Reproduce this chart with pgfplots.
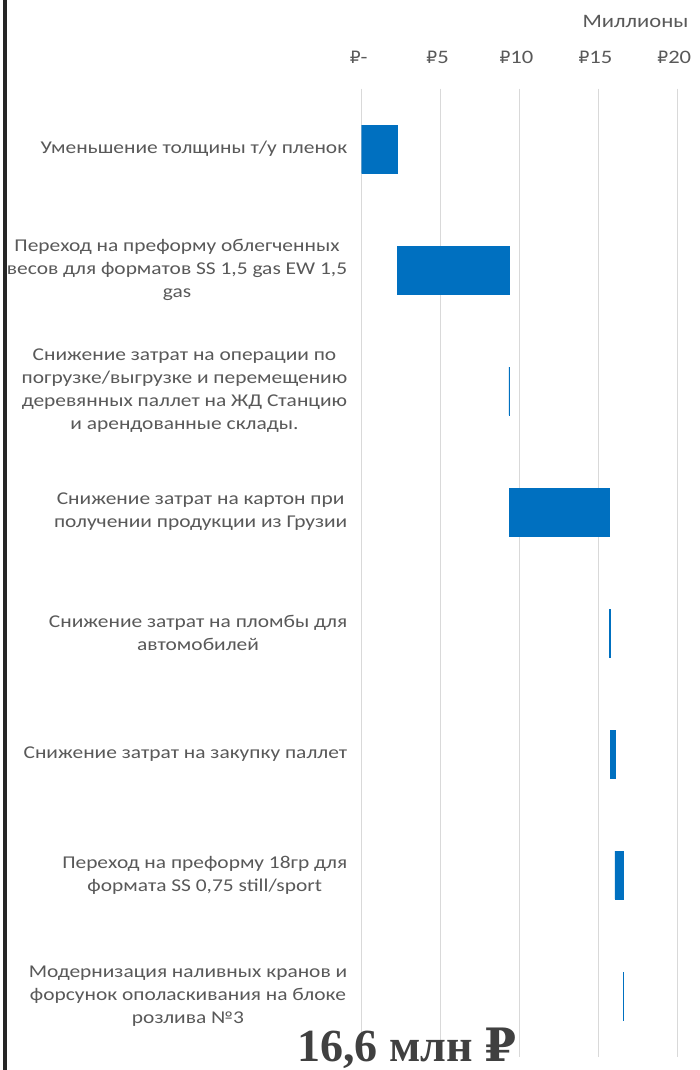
\documentclass[border=0pt]{standalone}
\usepackage{fontspec}
\setmainfont{Carlito}[FakeStretch=1.19]
\newfontfamily\numfont{Liberation Serif}
\newfontfamily\rubserif{DejaVu Serif}
\newfontfamily\rubsans{DejaVu Sans}
\newcommand{\rub}{{\rubsans\fontsize{17}{20}\selectfont ₽}}
\usepackage{pgfplots}
\pgfplotsset{compat=1.18}
\usepackage{pgfplotstable}
\definecolor{barblue}{HTML}{0070C0}
\definecolor{txtgray}{HTML}{595959}
\definecolor{gridgray}{HTML}{D9D9D9}
\definecolor{bigtxt}{HTML}{404040}

\pgfplotstableread{
y base val
0 0     2.26
1 2.26  7.07
2 9.33  0.05
3 9.38  6.31
4 15.69 0.05
5 15.74 0.31
6 16.05 0.52
7 16.57 0.03
}\wf

\begin{document}
\begin{tikzpicture}[x=1pt,y=1pt]
\useasboundingbox (0,0) rectangle (700,1070);
\fill[white] (0,0) rectangle (700,1070);
\fill[black!85] (3,0) rectangle (7,1070);
\begin{axis}[
  at={(361.7pt,13.5pt)}, anchor=south west,
  scale only axis, width=315.6pt, height=968pt,
  xmin=0, xmax=20, ymin=-0.5, ymax=7.5, y dir=reverse,
  xbar stacked, bar width=48pt,
  xtick={0,5,10,15,20},
  xticklabels={\rub-,\rub5,\rub10,\rub15,\rub20},
  xticklabel pos=upper,
  xticklabel style={anchor=base, yshift=25.5pt, xshift=-3pt, text=txtgray, font=\fontsize{19}{23}\selectfont},
  ytick={0,...,7},
  yticklabels={
    {Уменьшение толщины т/у пленок},
    {Переход на преформу облегченных\\весов для форматов SS 1,5 gas EW 1,5\\gas},
    {Снижение затрат на операции по\\погрузке/выгрузке и перемещению\\деревянных паллет на ЖД Станцию\\и арендованные склады.},
    {Снижение затрат на  картон при\\получении продукции из Грузии},
    {Снижение затрат на пломбы для\\автомобилей},
    {Снижение затрат на закупку паллет},
    {Переход на преформу 18гр для\\формата SS 0,75 still/sport},
    {Модернизация наливных кранов и\\форсунок ополаскивания на блоке\\розлива №3}
  },
  yticklabel style={align=center, text=txtgray, font=\fontsize{18}{23}\selectfont, xshift=-11pt},
  xmajorgrids, major grid style={gridgray, line width=1.2pt},
  axis line style={draw=none}, tick style={draw=none},
]
\addplot[draw=none, fill=none] table[x=base, y=y]{\wf};
\addplot[fill=barblue, draw=barblue, line width=0.5pt] table[x=val, y=y]{\wf};
\end{axis}
\node[anchor=base east, text=txtgray, font=\fontsize{19}{23}\selectfont] at (692,1042) {Миллионы};
\node[anchor=base, text=bigtxt, font=\numfont\bfseries\fontsize{46}{50}\selectfont, inner sep=0pt] at (407,9) {16,6 млн {\rubserif\bfseries ₽}};
\end{tikzpicture}
\end{document}
